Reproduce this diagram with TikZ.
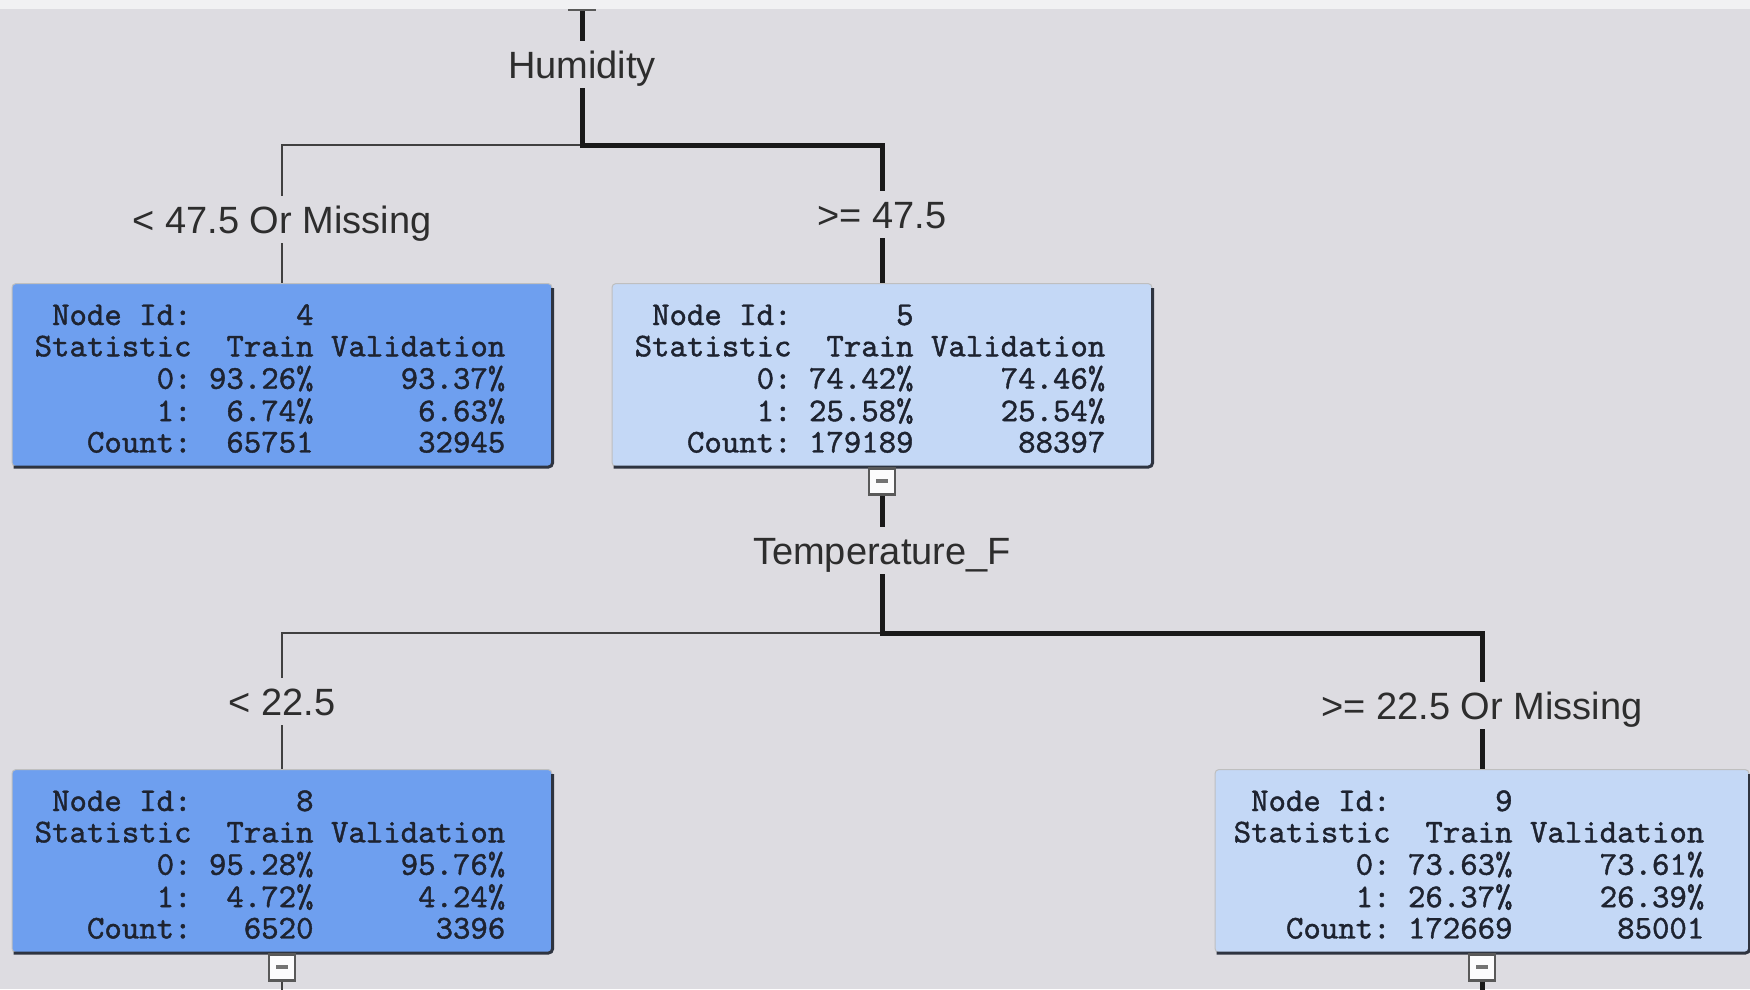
\documentclass[tikz,border=0pt]{standalone}
\usepackage{fontspec}
\setmainfont{Liberation Sans}
\newfontfamily\statfont[BoldFont=lmmono10-regular.otf,
  BoldFeatures={FakeBold=1.2}]{lmmono10-regular.otf}
\usetikzlibrary{positioning,calc}

\definecolor{canvas}{HTML}{DDDCE1}
\definecolor{topband}{HTML}{F1F1F3}
\definecolor{leafdark}{HTML}{6E9FEF}
\definecolor{leaflight}{HTML}{C4D8F6}
\definecolor{leafedge}{HTML}{2E3440}
\definecolor{boxtext}{HTML}{1E2330}
\definecolor{splittext}{HTML}{2D2D2D}

\newcommand{\nodestats}[7]{%
  \begin{tabular}[t]{@{}r@{\ }r@{\ }r@{}}
    Node Id:  & #1    &            \\
    Statistic & Train & Validation \\
    0:        & #2    & #3         \\
    1:        & #4    & #5         \\
    Count:    & #6    & #7
  \end{tabular}}

\begin{document}
\begin{tikzpicture}[x=1pt, y=-1pt, node distance=0pt,
  leaf/.style      = {rectangle, rounded corners=4pt, draw=black!25,
                      line width=1pt, minimum width=540pt,
                      minimum height=183pt, inner sep=0pt},
  stats/.style     = {anchor=base west, inner sep=0pt, text=boxtext,
                      font=\statfont\bfseries\fontsize{33.2}{31.3}\selectfont},
  split/.style     = {anchor=base, inner xsep=2pt, inner ysep=10pt,
                      text height=27pt, text depth=0pt, text=splittext,
                      font=\fontsize{38}{40}\selectfont},
  toggle/.style    = {rectangle, minimum width=26pt, minimum height=26pt,
                      inner sep=0pt, fill=white!92!canvas,
                      draw=black!65, line width=2.5pt,
                      path picture={\fill[black!55]
                        ([xshift=-6pt,yshift=-2pt]path picture bounding box.center)
                        rectangle ++(12pt,4pt);}},
  thickline/.style = {line width=5pt, black!90},
  thinline/.style  = {line width=2pt, black!75},
  edge/.style      = {line width=3pt, leafedge, rounded corners=4pt},
]
  \useasboundingbox (0,0) rectangle (1750,989);
  \fill[canvas] (0,0) rectangle (1750,989);

  % split labels
  \node[split] (hum)  at (582,78)  {Humidity};
  \node[split] (l4)   at (282,233) {< 47.5 Or Missing};
  \node[split] (l5)   at (882,228) {>= 47.5};
  \node[split] (temp) at (882,564) {Temperature\_F};
  \node[split] (l8)   at (282,715) {< 22.5};
  \node[split] (l9)   at (1482,719) {>= 22.5 Or Missing};

  % leaves
  \node[leaf, fill=leafdark]  (n4) at (282,375)  {};
  \node[leaf, fill=leaflight] (n5) at (882,375)  {};
  \node[leaf, fill=leafdark]  (n8) at (282,861)  {};
  \node[leaf, fill=leaflight, minimum width=534pt] (n9) at (1482,861) {};
  \foreach \b in {n4,n5,n8,n9}
    \draw[edge] ([yshift=-5pt]\b.north east) -- (\b.south east)
      -- ([xshift=2pt]\b.south west);

  \node[stats] (t4) at ($(n4.north west)+(23,42)$)
    {\nodestats{4}{93.26\%}{93.37\%}{6.74\%}{6.63\%}{65751}{32945}};
  \node[stats] (t5) at ($(n5.north west)+(23,42)$)
    {\nodestats{5}{74.42\%}{74.46\%}{25.58\%}{25.54\%}{179189}{88397}};
  \node[stats] (t8) at ($(n8.north west)+(23,42)$)
    {\nodestats{8}{95.28\%}{95.76\%}{4.72\%}{4.24\%}{6520}{3396}};
  \node[stats] (t9) at ($(n9.north west)+(19,42)$)
    {\nodestats{9}{73.63\%}{73.61\%}{26.37\%}{26.39\%}{172669}{85001}};

  % collapse buttons
  \node[toggle] (c0) at (582,-3) {};
  \node[toggle, below=of n5] (c5) {};
  \node[toggle, below=of n8] (c8) {};
  \node[toggle, below=of n9] (c9) {};
  \fill[topband] (0,0) rectangle (1750,8.5);

  \coordinate (s1) at (582,145);
  \coordinate (s2) at (882,633);
  \coordinate (b8) at (282,995);
  \coordinate (b9) at (1482,995);

  \draw[thickline] (c0) -- (hum);
  \draw[thinline] (s1) -| (l4);
  \draw[thickline] (hum) -- (s1) -| (l5);
  \draw[thinline] (l4) -- (n4);
  \draw[thickline] (l5) -- (n5);

  \draw[thickline] (c5) -- (temp);
  \draw[thinline] (s2) -| (l8);
  \draw[thickline] (temp) -- (s2) -| (l9);
  \draw[thinline] (l8) -- (n8);
  \draw[thickline] (l9) -- (n9);

  \draw[thinline] (c8) -- (b8);
  \draw[thickline] (c9) -- (b9);
\end{tikzpicture}
\end{document}
